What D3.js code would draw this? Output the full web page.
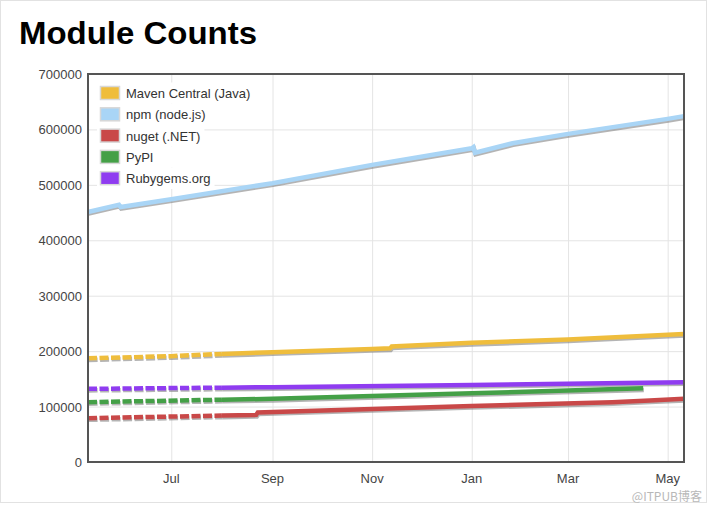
<!DOCTYPE html>
<html>
<head>
<meta charset="utf-8">
<script src="https://cdn.jsdelivr.net/npm/d3@7"></script>
<style>
  body { margin: 0; background: #fff; }
  text { font-family: "Liberation Sans", Arial, Helvetica, sans-serif; }
  .grid line { stroke: #e4e4e4; stroke-width: 1; }
  .grid path { display: none; }
  .tick-label { font-size: 13px; fill: #444; }
</style>
</head>
<body>
<div id="chart"></div>
<script>
const parseDate = d3.timeParse('%Y-%m-%d');

const seriesNames = ['Maven Central (Java)', 'npm (node.js)', 'nuget (.NET)', 'PyPI', 'Rubygems.org'];
const seriesColors = ['#efbd3c', '#a9d5f6', '#c94848', '#44a047', '#8f3cf0'];

const mavenDates = ['2017-05-11', '2017-07-01', '2017-08-01', '2017-09-01', '2017-11-01', '2017-11-12', '2017-11-13', '2018-01-01', '2018-03-01', '2018-05-11'];
const mavenValues = [187000, 191000, 195000, 198000, 204000, 205000, 208500, 215000, 221000, 231000];

const npmDates = ['2017-05-11', '2017-05-30', '2017-05-31', '2017-07-01', '2017-09-01', '2017-11-01', '2018-01-01', '2018-01-02', '2018-01-03', '2018-01-26', '2018-03-01', '2018-05-01', '2018-05-11'];
const npmValues = [451000, 464000, 460000, 474000, 503000, 536000, 566000, 568000, 558000, 575000, 592000, 619000, 624000];

const nugetDates = ['2017-05-11', '2017-08-22', '2017-08-23', '2018-01-01', '2018-03-28', '2018-04-20', '2018-05-11'];
const nugetValues = [79000, 85000, 89500, 101000, 108000, 111000, 114000];

const pypiDates = ['2017-05-11', '2017-09-01', '2018-01-01', '2018-04-16'];
const pypiValues = [108000, 114000, 124000, 133000];

const rubyDates = ['2017-05-11', '2017-09-01', '2018-01-01', '2018-05-11'];
const rubyValues = [132000, 135000, 139000, 144000];

const yTicks = [0, 100000, 200000, 300000, 400000, 500000, 600000, 700000];
const domainStart = '2017-05-11';
const domainEnd = '2018-05-11';
const dashedUntil = '2017-08-01';
const dashedSeries = [true, false, true, true, true];

const toPoints = (dates, values) => dates.map((d, i) => ({ date: parseDate(d), value: values[i] }));

const series = [
  toPoints(mavenDates, mavenValues),
  toPoints(npmDates, npmValues),
  toPoints(nugetDates, nugetValues),
  toPoints(pypiDates, pypiValues),
  toPoints(rubyDates, rubyValues)
];

const width = 707;
const height = 505;
const plot = { left: 88, top: 74, right: 684, bottom: 462 };

const svg = d3.select('#chart')
  .append('svg')
  .attr('width', width)
  .attr('height', height);

svg.append('rect')
  .attr('x', 0.5).attr('y', 0.5)
  .attr('width', width - 1).attr('height', height - 3)
  .attr('fill', '#fff')
  .attr('stroke', '#e2e2e2');

svg.append('text')
  .attr('x', 19)
  .attr('y', 44)
  .style('font-size', '31px')
  .style('font-weight', 'bold')
  .attr('fill', '#000')
  .attr('textLength', 238)
  .attr('lengthAdjust', 'spacingAndGlyphs')
  .text('Module Counts');

const x = d3.scaleTime()
  .domain([parseDate(domainStart), parseDate(domainEnd)])
  .range([plot.left, plot.right]);

const y = d3.scaleLinear()
  .domain([0, 700000])
  .range([plot.bottom, plot.top]);

const monthTicks = x.ticks(d3.timeMonth.every(2));

// grid
svg.append('g')
  .attr('class', 'grid')
  .attr('transform', `translate(0,${plot.bottom})`)
  .call(d3.axisBottom(x)
    .tickValues(monthTicks)
    .tickSize(-(plot.bottom - plot.top))
    .tickFormat(''));

svg.append('g')
  .attr('class', 'grid')
  .attr('transform', `translate(${plot.left},0)`)
  .call(d3.axisLeft(y)
    .tickValues(yTicks)
    .tickSize(-(plot.right - plot.left))
    .tickFormat(''));

// tick labels
svg.append('g')
  .selectAll('text')
  .data(yTicks)
  .enter().append('text')
  .attr('class', 'tick-label')
  .attr('x', 82)
  .attr('y', d => y(d) + 5)
  .attr('text-anchor', 'end')
  .text(d => d3.format('d')(d));

svg.append('g')
  .selectAll('text')
  .data(monthTicks)
  .enter().append('text')
  .attr('class', 'tick-label')
  .attr('x', d => x(d))
  .attr('y', 483)
  .attr('text-anchor', 'middle')
  .text(d => d3.timeFormat('%b')(d));

// lines
const line = d3.line()
  .x(d => x(d.date))
  .y(d => y(d.value));

const cut = parseDate(dashedUntil);

const splitEarly = (pts) => {
  const early = pts.filter(p => p.date <= cut);
  const rest = pts.filter(p => p.date >= cut);
  if (early.length && rest.length && early[early.length - 1].date < cut) {
    // boundary point only joins the two path pieces
    const a = early[early.length - 1], b = rest[0];
    const t = (cut - a.date) / (b.date - a.date);
    const mid = { date: cut, value: a.value + (b.value - a.value) * t };
    early.push(mid);
    rest.unshift(mid);
  }
  return [early, rest];
};

const lines = svg.append('g');

// npm first, then the rest
const order = [1, 0, 4, 3, 2];

order.forEach(k => {
  const parts = dashedSeries[k]
    ? (([e, r]) => [[e, '9,2.5'], [r, null]])(splitEarly(series[k]))
    : [[series[k], null]];
  const g = lines.append('g');

  parts.forEach(([pts, dash]) => {
    if (pts.length < 2) return;
    g.append('path')
      .attr('d', line(pts))
      .attr('fill', 'none')
      .attr('stroke', '#777')
      .attr('stroke-opacity', 0.55)
      .attr('stroke-width', 4.5)
      .attr('stroke-dasharray', dash)
      .attr('transform', 'translate(0.6,1.6)');
    g.append('path')
      .attr('d', line(pts))
      .attr('fill', 'none')
      .attr('stroke', seriesColors[k])
      .attr('stroke-width', 4.5)
      .attr('stroke-dasharray', dash);
  });
});

// frame
svg.append('rect')
  .attr('x', plot.left)
  .attr('y', plot.top)
  .attr('width', plot.right - plot.left)
  .attr('height', plot.bottom - plot.top)
  .attr('fill', 'none')
  .attr('stroke', '#555')
  .attr('stroke-width', 2);

// legend
const legend = svg.append('g')
  .attr('transform', 'translate(97,83)');

const rows = legend.selectAll('.row')
  .data(seriesNames)
  .enter().append('g')
  .attr('class', 'row')
  .attr('transform', (d, i) => `translate(0,${i * 21.3})`);

rows.append('rect')
  .attr('y', -0.5)
  .attr('height', 21.3)
  .attr('fill', '#fff');

rows.append('rect')
  .attr('x', 3.5)
  .attr('y', 3.5)
  .attr('width', 19)
  .attr('height', 13)
  .attr('fill', (d, i) => seriesColors[i])
  .attr('stroke', '#d8d8d8')
  .attr('stroke-width', 1.5);

rows.append('text')
  .attr('x', 29)
  .attr('y', 15)
  .style('font-size', '13px')
  .attr('fill', '#333')
  .text(d => d);

rows.each(function () {
  const w = d3.select(this).select('text').node().getComputedTextLength();
  d3.select(this).select('rect').attr('width', Math.max(29 + w + 4, 80));
});

// watermark
svg.append('text')
  .attr('x', 702)
  .attr('y', 501)
  .attr('text-anchor', 'end')
  .style('font-size', '12px')
  .style('font-family', '"Noto Sans CJK SC", "Liberation Sans", sans-serif')
  .attr('fill', '#b8b8b8')
  .text('@ITPUB博客');
</script>
</body>
</html>
